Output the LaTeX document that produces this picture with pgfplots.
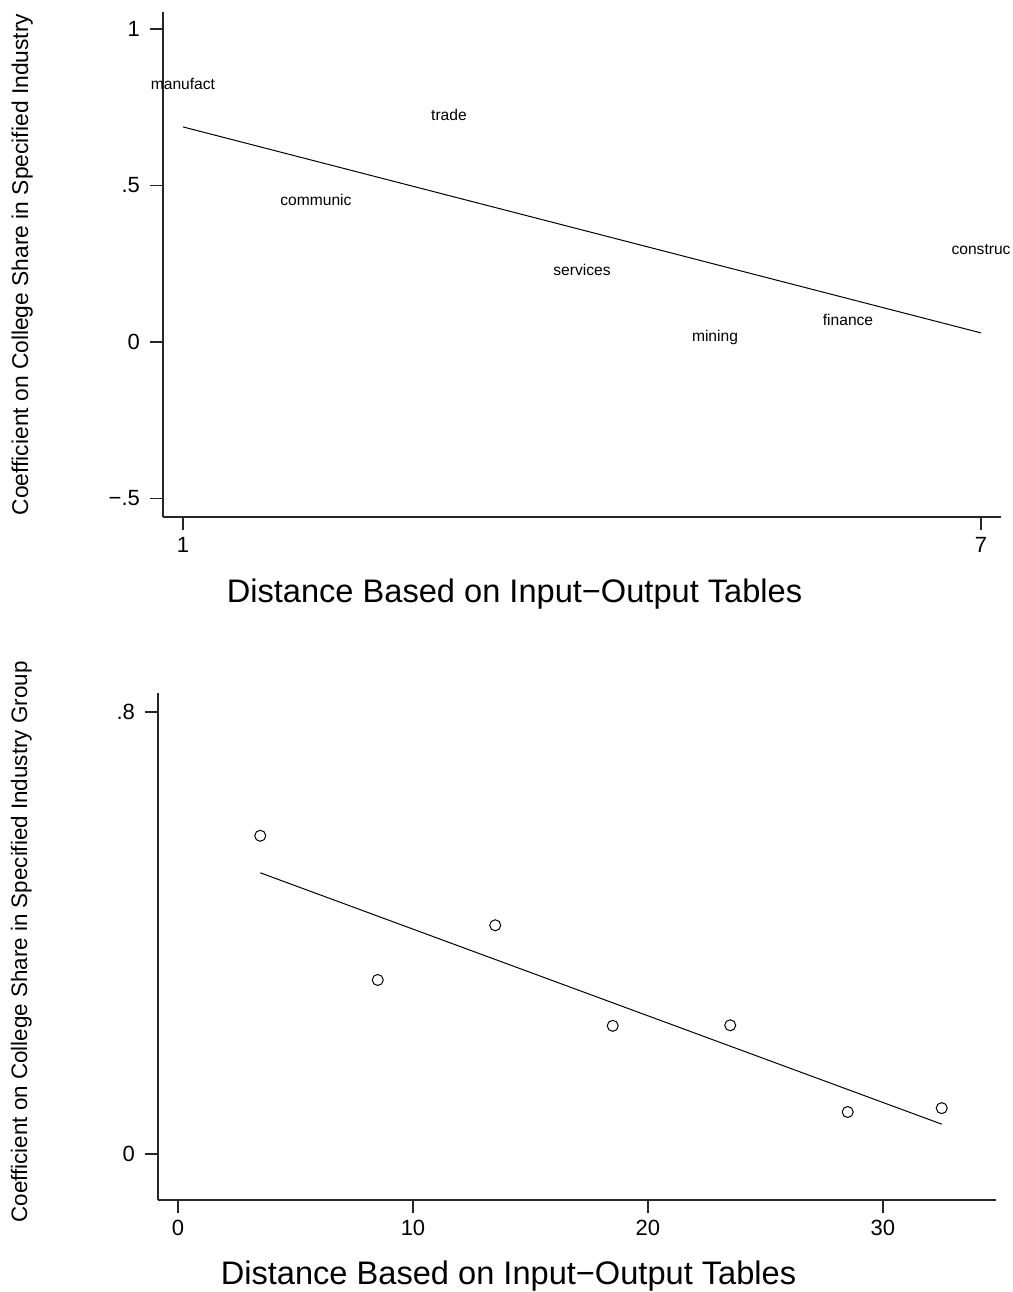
\documentclass[border=0pt]{standalone}
\usepackage{fontspec}
\setmainfont{Liberation Sans}
\usepackage{pgfplots}
\pgfplotsset{compat=1.18}
\pgfplotsset{stata/.style={
  scale only axis, clip=false,
  axis lines=left,
  axis line style={-, line width=0.65pt, black!85},
  tick align=outside, major tick length=6.5pt,
  every tick/.style={line width=0.65pt, black!85},
  ticklabel style={font=\fontsize{11}{13}\selectfont},
  yticklabel style={xshift=-1.5pt},
  /pgf/number format/assume math mode=true,
}}
\begin{document}
\begin{tikzpicture}
\useasboundingbox (0pt,0pt) rectangle (506.5pt,-646pt);
% ---------- top panel ----------
\begin{axis}[stata,
  at={(81.5pt,-258.5pt)}, anchor=south west,
  width=419pt, height=252.5pt,
  xmin=0.85, xmax=7.15, ymin=-0.559, ymax=1.054,
  xtick={1,7}, xticklabels={1,7},
  ytick={-0.5,0,0.5,1}, yticklabels={−.5,0,.5,1},
]
\addplot[black, line width=0.5pt] coordinates {(1,0.687) (7,0.029)};
\addplot[only marks, mark=none, nodes near coords, point meta=explicit symbolic,
  nodes near coords style={anchor=center, text=black, inner sep=0pt, font=\fontsize{7.8}{9}\selectfont}]
  table[meta=label] {
x y label
1 0.824 manufact
2 0.454 communic
3 0.725 trade
4 0.230 services
5 0.013 mining
6 0.070 finance
7 0.294 construc
};
\end{axis}
\node[anchor=base, font=\fontsize{16.3}{19}\selectfont] at (257.25pt,-301pt) {Distance Based on Input−Output Tables};
\node[rotate=90, anchor=base, font=\fontsize{11.4}{13}\selectfont] at (14pt,-132.25pt) {Coefficient on College Share in Specified Industry};
% ---------- bottom panel ----------
\begin{axis}[stata,
  at={(79pt,-600pt)}, anchor=south west,
  width=419pt, height=253.5pt,
  xmin=-0.851, xmax=34.81, ymin=-0.0833, ymax=0.8344,
  xtick={0,10,20,30}, xticklabels={0,10,20,30},
  ytick={0,0.8}, yticklabels={0,.8},
]
\addplot[only marks, mark=o, mark size=2.75pt, mark options={line width=0.5pt, black}] coordinates {
(3.5,0.576) (8.5,0.315) (13.5,0.414) (18.5,0.232) (23.5,0.233) (28.5,0.076) (32.5,0.083)};
\addplot[black, line width=0.5pt] coordinates {(3.5,0.509) (32.5,0.054)};
\end{axis}
\node[anchor=base, font=\fontsize{16.3}{19}\selectfont] at (254.25pt,-642pt) {Distance Based on Input−Output Tables};
\node[rotate=90, anchor=base, font=\fontsize{11.2}{13}\selectfont] at (13.5pt,-471pt) {Coefficient on College Share in Specified Industry Group};
\end{tikzpicture}
\end{document}
